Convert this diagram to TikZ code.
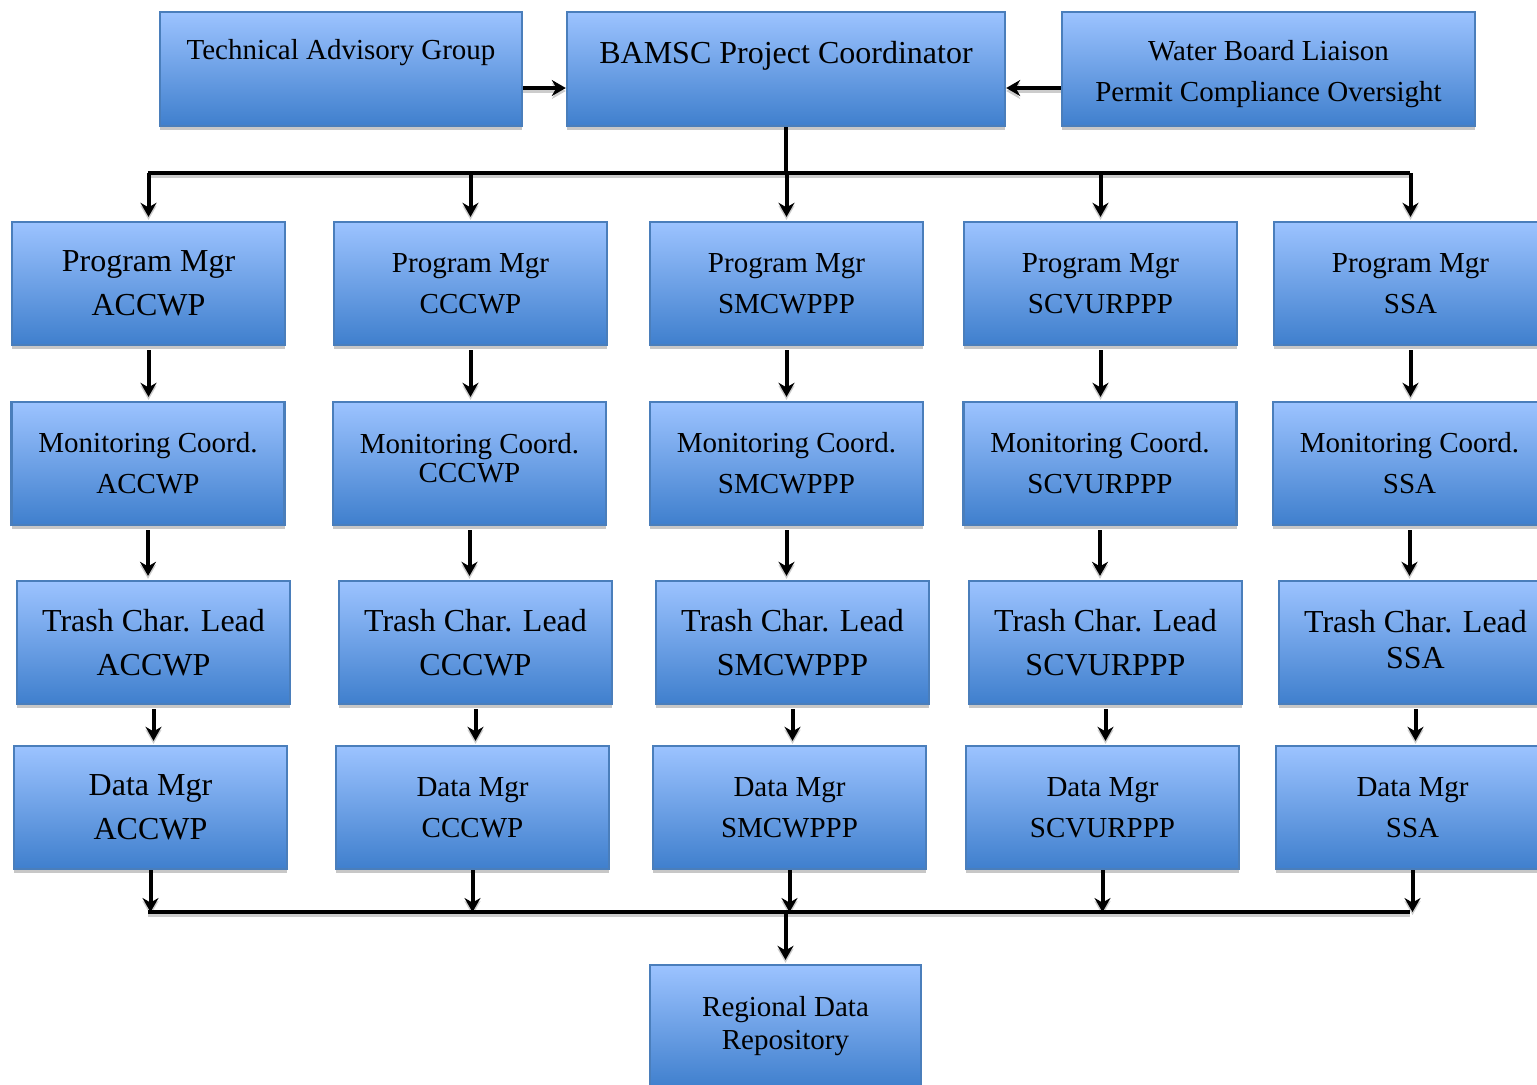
\documentclass[tikz,border=0pt]{standalone}
\usepackage{fontspec}
\setmainfont{Liberation Serif}
\usetikzlibrary{arrows.meta,positioning,shadows}
\definecolor{boxtop}{HTML}{9CC3FF}
\definecolor{boxbot}{HTML}{3F7FCD}
\definecolor{boxline}{HTML}{4A7EBB}
\tikzset{
  orgbox/.style={rectangle, draw=boxline, line width=1.2pt, top color=boxtop, bottom color=boxbot, align=center, minimum width=136.5pt, minimum height=61.5pt, inner sep=2pt, drop shadow={shadow xshift=0pt, shadow yshift=-2pt, fill=black!22, opacity=1}},
  smalltext/.style={font=\fontsize{14.5}{20.5}\selectfont},
  bigtext/.style={font=\fontsize{16}{22}\selectfont},
  link/.style={line width=2pt, draw=black, preaction={draw=black!20, line width=2pt, transform canvas={yshift=-1.5pt}}},
  arrow/.style={link, -{Stealth[length=7pt,width=8pt]}, shorten >=2pt},
  rowarrow/.style={arrow, shorten <=2pt}
}

\begin{document}
\begin{tikzpicture}[x=0.5pt, y=-0.5pt]
  \useasboundingbox (0,0) rectangle (1537,1084);
  % top row
  \node[orgbox, smalltext, minimum width=181pt, minimum height=57pt] (TAG) at (341,69) {Technical Advisory Group\\[-7pt] \strut};
  \node[orgbox, bigtext, minimum width=219pt, minimum height=57pt] (BC) at (786,69) {BAMSC Project Coordinator\\[-12pt] \strut};
  \node[orgbox, smalltext, minimum width=206.5pt, minimum height=57pt] (WB) at (1268.5,69) {\rule{0pt}{15pt}Water Board Liaison\\Permit Compliance Oversight};

  % program managers
  \node[orgbox, bigtext] (P1) at (148.5,283.5) {Program Mgr\\ACCWP};
  \node[orgbox, smalltext] (P2) at (470.5,283.5) {Program Mgr\\CCCWP};
  \node[orgbox, smalltext] (P3) at (786.5,283.5) {Program Mgr\\SMCWPPP};
  \node[orgbox, smalltext] (P4) at (1100.5,283.5) {Program Mgr\\SCVURPPP};
  \node[orgbox, smalltext] (P5) at (1410.5,283.5) {Program Mgr\\SSA};

  % monitoring coordinators
  \node[orgbox, smalltext] (M1) at (148,463.5) {Monitoring Coord.\\ACCWP};
  \node[orgbox, smalltext] (M2) at (469.5,463.5) {Monitoring Coord.\\[-6pt]CCCWP\rule[-6pt]{0pt}{6pt}};
  \node[orgbox, smalltext] (M3) at (786.5,463.5) {Monitoring Coord.\\SMCWPPP};
  \node[orgbox, smalltext] (M4) at (1100,463.5) {Monitoring Coord.\\SCVURPPP};
  \node[orgbox, smalltext] (M5) at (1409.5,463.5) {Monitoring Coord.\\SSA};

  % trash characterization leads
  \node[orgbox, bigtext] (T1) at (153.5,642.5) {Trash Char. Lead\\ACCWP};
  \node[orgbox, bigtext] (T2) at (475.5,642.5) {Trash Char. Lead\\CCCWP};
  \node[orgbox, bigtext] (T3) at (792.5,642.5) {Trash Char. Lead\\SMCWPPP};
  \node[orgbox, bigtext] (T4) at (1105.5,642.5) {Trash Char. Lead\\SCVURPPP};
  \node[orgbox, bigtext] (T5) at (1415.5,642.5) {Trash Char. Lead\\[-4pt]SSA\rule[-3pt]{0pt}{3pt}};

  % data managers
  \node[orgbox, bigtext] (D1) at (150.5,807.5) {Data Mgr\\ACCWP};
  \node[orgbox, smalltext] (D2) at (472.5,807.5) {Data Mgr\\CCCWP};
  \node[orgbox, smalltext] (D3) at (789.5,807.5) {Data Mgr\\SMCWPPP};
  \node[orgbox, smalltext] (D4) at (1102.5,807.5) {Data Mgr\\SCVURPPP};
  \node[orgbox, smalltext] (D5) at (1412.5,807.5) {Data Mgr\\SSA};

  \node[orgbox, smalltext, minimum width=135.5pt] (R) at (785.5,1026.5) {Regional Data\\[-4pt]Repository};

  \coordinate (busL) at (148,173);
  \coordinate (busR) at (1410,173);
  \coordinate (botL) at (148,912);
  \coordinate (botR) at (1410,912);

  \draw[arrow, shorten >=0pt] ([yshift=-9.5pt]TAG.east) -- ([yshift=-9.5pt]BC.west);
  \draw[arrow, shorten >=0pt] ([yshift=-9.5pt]WB.west) -- ([yshift=-9.5pt]BC.east);

  \draw[link] (BC) -- (BC |- busL);
  \draw[link] (busL) -- (busR);
  \draw[arrow] (P1 |- busL) -- (P1);
  \draw[arrow] (P2 |- busL) -- (P2);
  \draw[arrow] (P3 |- busL) -- (P3);
  \draw[arrow] (P4 |- busL) -- (P4);
  \draw[arrow] (P5 |- busL) -- (P5);

  \draw[rowarrow] (P1) -- (P1 |- M1.north);
  \draw[rowarrow] (P2) -- (P2 |- M2.north);
  \draw[rowarrow] (P3) -- (P3 |- M3.north);
  \draw[rowarrow] (P4) -- (P4 |- M4.north);
  \draw[rowarrow] (P5) -- (P5 |- M5.north);

  \draw[rowarrow] (M1) -- (M1 |- T1.north);
  \draw[rowarrow] (M2) -- (M2 |- T2.north);
  \draw[rowarrow] (M3) -- (M3 |- T3.north);
  \draw[rowarrow] (M4) -- (M4 |- T4.north);
  \draw[rowarrow] (M5) -- (M5 |- T5.north);

  \draw[rowarrow] (T1) -- (T1 |- D1.north);
  \draw[rowarrow] (T2) -- (T2 |- D2.north);
  \draw[rowarrow] (T3) -- (T3 |- D3.north);
  \draw[rowarrow] (T4) -- (T4 |- D4.north);
  \draw[rowarrow] (T5) -- (T5 |- D5.north);

  \draw[arrow, shorten >=0pt] (D1) -- (D1 |- botL);
  \draw[arrow, shorten >=0pt] (D2) -- (D2 |- botL);
  \draw[arrow, shorten >=0pt] (D3) -- (D3 |- botL);
  \draw[arrow, shorten >=0pt] (D4) -- (D4 |- botL);
  \draw[arrow, shorten >=0pt] (D5) -- (D5 |- botL);
  \draw[link] (botL) -- (botR);
  \draw[arrow] (R |- botL) -- (R);
\end{tikzpicture}
\end{document}
